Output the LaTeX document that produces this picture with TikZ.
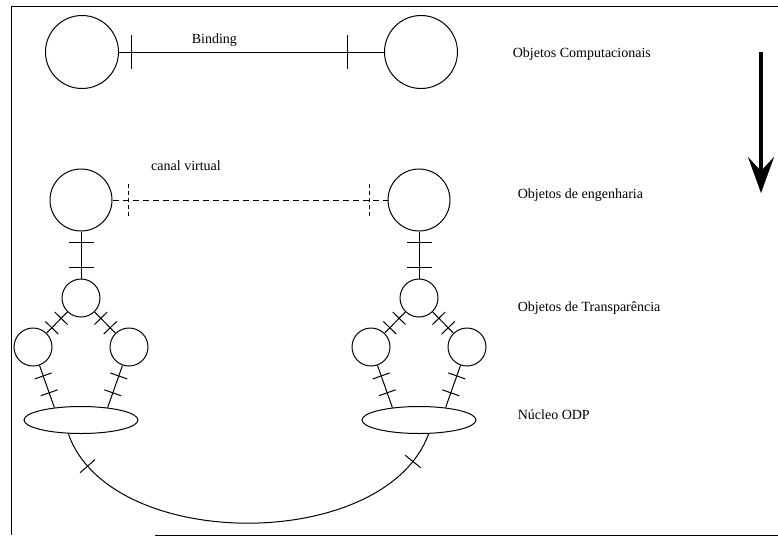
\documentclass[tikz,border=0pt]{standalone}
\usepackage{fontspec}
\setmainfont{Liberation Serif}
\usetikzlibrary{shapes.geometric,decorations.markings,arrows.meta}

\def \CompSize {73}
\def \EngSize {62}
\def \TrSize {38}
\tikzstyle{compobj}=[
  draw=black,
  circle,
  inner sep=0,
  minimum size=\CompSize
]
\tikzstyle{engobj}=[compobj, minimum size=\EngSize]
\tikzstyle{trobj}=[compobj, minimum size=\TrSize]
\tikzstyle{nucleo}=[
  draw=black,
  ellipse,
  inner sep=0,
  minimum width=114,
  minimum height=27
]
\tikzstyle{layer}=[anchor=west]
\tikzset{
  ticks/.style n args={3}{
    postaction={decorate},
    decoration={markings,
      mark=at position #1 with {\draw[solid] (0,-#3) -- (0,#3);},
      mark=at position #2 with {\draw[solid] (0,-#3) -- (0,#3);}}
  },
  dticks/.style n args={3}{
    dash pattern=on 6pt off 4pt,
    postaction={decorate},
    decoration={markings,
      mark=at position #1 with {\draw[dash pattern=on 4pt off 3pt] (0,-#3) -- (0,#3);},
      mark=at position #2 with {\draw[dash pattern=on 4pt off 3pt] (0,-#3) -- (0,#3);}}
  }
}

\begin{document}
\begin{tikzpicture}[x=1pt, y=-1pt, line width=1pt, font=\fontsize{14}{16}\selectfont]
  \useasboundingbox (0,0) rectangle (778,539);

  % frame
  \draw[line width=0.8pt] (778,6) -- (11,6) -- (11,535);
  \draw[line width=0.8pt] (155,535) -- (778,535);

  % computacionais
  \node[compobj] (comp1) at (82,52) {};
  \node[compobj] (comp2) at (421,52) {};
  \draw[ticks={12pt}{-37pt}{17}] (comp1) -- (comp2)
    node[pos=0.36, above=2pt] (bind) {Binding};

  % engenharia + transparencia + nucleo
  \foreach \g/\cx in {1/81, 2/419}{
    \node[engobj] (eng\g) at (\cx,200) {};
    \node[trobj] (trt\g) at (\cx,298) {};
    \node[trobj] (trl\g) at (\cx-48,347) {};
    \node[trobj] (trr\g) at (\cx+48,347) {};
    \node[nucleo] (odp\g) at (\cx,420) {};

    \draw[ticks={11pt}{-11pt}{12.5}] (eng\g) -- (trt\g);
    \draw[ticks={0.3}{0.75}{9}] (trt\g) -- (trl\g);
    \draw[ticks={0.3}{0.75}{9}] (trt\g) -- (trr\g);
    \draw[ticks={0.25}{0.65}{9}] (trl\g) -- (odp\g.155);
    \draw[ticks={0.25}{0.65}{9}] (trr\g) -- (odp\g.25);
  }

  % canal virtual
  \draw[dticks={16pt}{-18pt}{16}] (eng1) -- (eng2);
  \node (canal) at (186,166) {canal virtual};

  % nucleo link
  \draw[ticks={38pt}{-32pt}{10}] (odp1.-133) .. controls (110,553) and (385,553) .. (odp2.-55);

  % labels
  \node[layer] (lcomp) at (509,54) {Objetos Computacionais};
  \node[layer] (leng) at (514,195) {Objetos de engenharia};
  \node[layer] (ltr) at (514,308) {Objetos de Transparência};
  \node[layer] (lodp) at (514,415) {Núcleo ODP};

  % arrow
  \coordinate (atop) at (761,52);
  \coordinate (abot) at (761,193);
  \draw[line width=3.5pt, -{Stealth[length=36pt, width=26pt, inset=14pt]}] (atop) -- (abot);
\end{tikzpicture}
\end{document}
